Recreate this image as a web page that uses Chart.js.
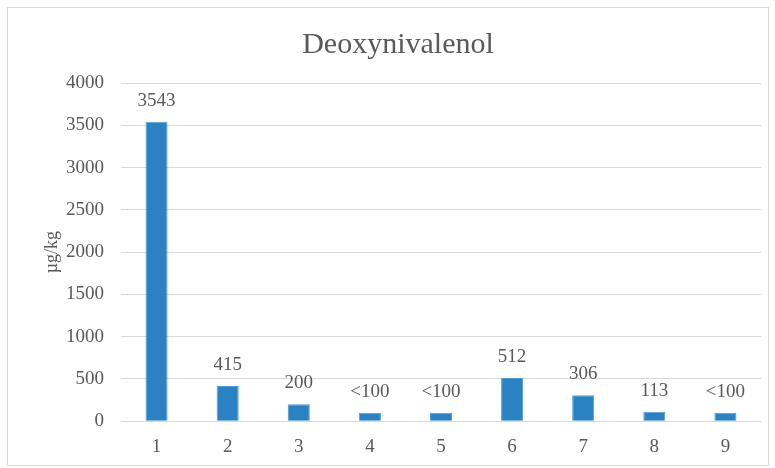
<!DOCTYPE html>
<html>
<head>
<meta charset="utf-8">
<script src="https://cdn.jsdelivr.net/npm/chart.js@4"></script>
<style>
  html, body { margin: 0; padding: 0; background: #ffffff; }
  #wrap { width: 775px; height: 468px; position: relative; }
</style>
</head>
<body>
<div id="wrap"><canvas id="c" width="775" height="468"></canvas></div>
<script>
const categories = ["1", "2", "3", "4", "5", "6", "7", "8", "9"];
const values = [3543, 415, 200, 100, 100, 512, 306, 113, 100];
const valueLabels = ["3543", "415", "200", "<100", "<100", "512", "306", "113", "<100"];
const yTicks = [0, 500, 1000, 1500, 2000, 2500, 3000, 3500, 4000];

const FONT = "'Liberation Serif', 'Times New Roman', serif";
const GRAY = "#595959";

const borderPlugin = {
  id: "frame",
  beforeDraw(chart) {
    const ctx = chart.ctx;
    ctx.save();
    ctx.fillStyle = "#ffffff";
    ctx.fillRect(0, 0, chart.width, chart.height);
    ctx.strokeStyle = "#d9d9d9";
    ctx.lineWidth = 1;
    ctx.strokeRect(7.5, 7.5, 761, 458);
    ctx.restore();
  }
};

const labelPlugin = {
  id: "valueLabels",
  afterDatasetsDraw(chart) {
    const ctx = chart.ctx;
    const meta = chart.getDatasetMeta(0);
    ctx.save();
    ctx.font = "19px " + FONT;
    ctx.fillStyle = GRAY;
    ctx.textAlign = "center";
    ctx.textBaseline = "middle";
    meta.data.forEach((bar, i) => {
      ctx.fillText(valueLabels[i], bar.x, bar.y - 21);
    });
    ctx.restore();
  }
};

new Chart(document.getElementById("c"), {
  type: "bar",
  data: {
    labels: categories,
    datasets: [{
      data: values,
      backgroundColor: "#2a82c3",
      borderColor: "#4f9bd6",
      borderWidth: 1,
      barPercentage: 0.31,
      categoryPercentage: 1.0
    }]
  },
  options: {
    responsive: false,
    animation: false,
    layout: { padding: { left: 35, right: 14, top: 8, bottom: -4 } },
    plugins: {
      legend: { display: false },
      tooltip: { enabled: false },
      title: {
        display: true,
        text: "Deoxynivalenol",
        color: GRAY,
        font: { family: FONT, size: 30, weight: "normal" },
        padding: { top: 19, bottom: 20 }
      }
    },
    scales: {
      x: {
        grid: { display: false, drawTicks: false },
        border: { display: false },
        ticks: { color: GRAY, font: { family: FONT, size: 19 }, padding: 14 }
      },
      y: {
        min: 0,
        max: 4000,
        afterBuildTicks(scale) { scale.ticks = yTicks.map(v => ({ value: v })); },
        afterFit(scale) { scale.width = 86; },
        grid: { color: "#d9d9d9", lineWidth: 1, drawTicks: false },
        border: { display: false },
        ticks: {
          color: GRAY,
          font: { family: FONT, size: 19 },
          padding: 17,
          callback: (v) => String(v)
        },
        title: {
          display: true,
          text: "µg/kg",
          color: GRAY,
          font: { family: FONT, size: 18 },
          padding: { top: 6, bottom: 0 }
        }
      }
    }
  },
  plugins: [borderPlugin, labelPlugin]
});
</script>
</body>
</html>
